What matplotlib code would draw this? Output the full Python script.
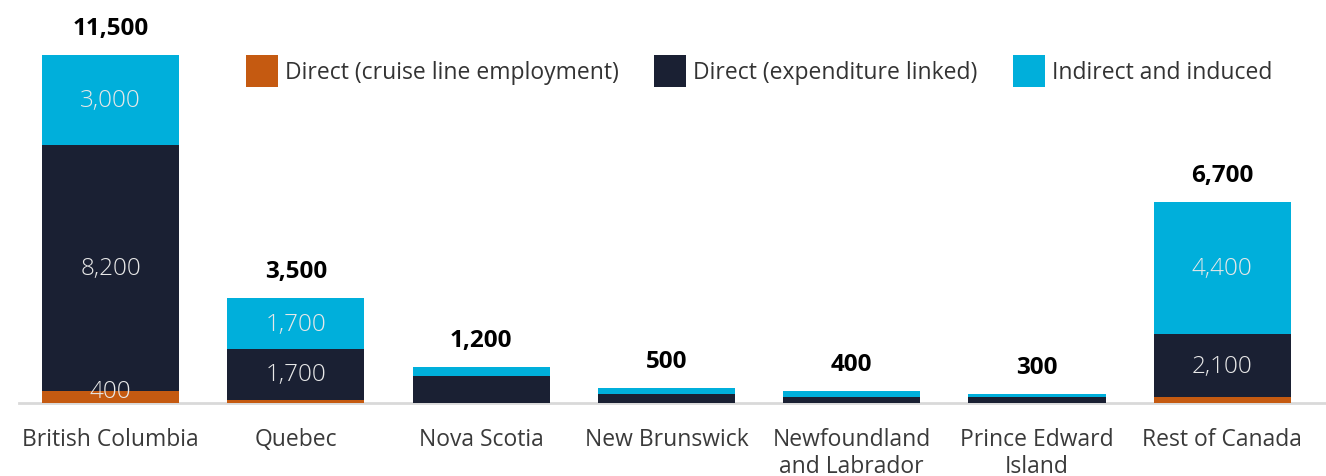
import matplotlib
matplotlib.use("Agg")
import matplotlib.pyplot as plt
import numpy as np
from matplotlib.patches import Patch

plt.rcParams["font.family"] = ["Open Sans", "DejaVu Sans"]

provinces = [
    "British Columbia",
    "Quebec",
    "Nova Scotia",
    "New Brunswick",
    "Newfoundland\nand Labrador",
    "Prince Edward\nIsland",
    "Rest of Canada",
]
cruise_line = [400, 100, 0, 0, 0, 0, 200]
expenditure = [8200, 1700, 900, 300, 200, 200, 2100]
indirect = [3000, 1700, 300, 200, 200, 100, 4400]
totals = [11500, 3500, 1200, 500, 400, 300, 6700]

series = [
    ("Direct (cruise line employment)", cruise_line, "#c55a11"),
    ("Direct (expenditure linked)", expenditure, "#1a2033"),
    ("Indirect and induced", indirect, "#00afdb"),
]

W, H = 1326, 477
fig = plt.figure(figsize=(W / 100, H / 100), dpi=100)
ax = fig.add_axes([19 / W, 73 / H, 1 - 19 / W, 390 / H])

x = np.arange(len(provinces))
bottom = np.zeros(len(provinces))
for name, values, color in series:
    values = np.array(values, dtype=float)
    ax.bar(x, values, width=0.74, bottom=bottom, color=color, zorder=3)
    for i, v in enumerate(values):
        # only the tall bars carry segment values
        if totals[i] >= 3000 and v >= 400:
            va = "center"
            y = bottom[i] + v / 2
            if v < 1000:
                va = "baseline"
            ax.text(x[i], y, f"{int(v):,}", ha="center", va=va,
                    color="#e8e8e8", fontsize=17.5, fontweight="light", zorder=4)
    bottom += values

for i, t in enumerate(totals):
    ax.annotate(f"{t:,}", (x[i], bottom[i]), xytext=(0, 11),
                textcoords="offset points", ha="center", va="bottom",
                fontsize=17.5, fontweight="bold", color="black")

ax.set_xlim(-0.494, 6.56)
ax.set_ylim(0, 13000)
ax.set_xticks(x)
ax.set_xticklabels(provinces, fontsize=16.5, color="#3a3a3a", linespacing=1.2)
ax.tick_params(axis="x", length=0, pad=17)
ax.set_yticks([])
for side in ("top", "right", "left"):
    ax.spines[side].set_visible(False)
ax.spines["bottom"].set_color("#d9d9d9")
ax.spines["bottom"].set_linewidth(2)

handles = [Patch(facecolor=c, label=n) for n, _, c in series]
fig.legend(handles=handles, loc="center left", bbox_to_anchor=(246 / W, 1 - 72 / H),
           ncol=3, frameon=False, fontsize=16.5, handlelength=1.4, handleheight=1.75,
           handletextpad=0.3, columnspacing=1.55, borderpad=0, borderaxespad=0,
           labelcolor="#333333")

fig.savefig("out.png", dpi=100)
